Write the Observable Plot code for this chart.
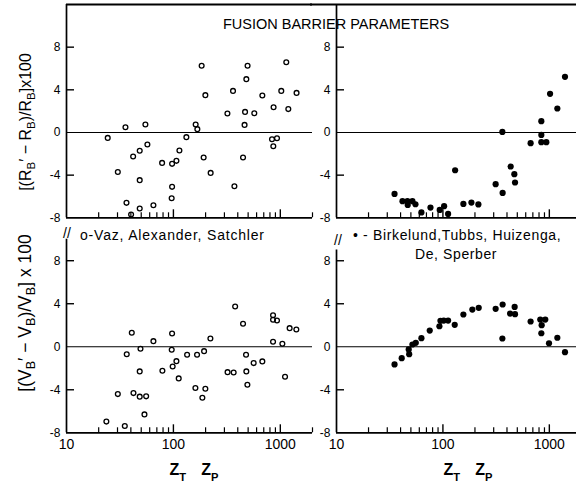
<!DOCTYPE html>
<html><head><meta charset="utf-8">
<script src="https://cdn.jsdelivr.net/npm/d3@7"></script>
<script src="https://cdn.jsdelivr.net/npm/@observablehq/plot@0.6"></script>
<style>
html,body{margin:0;padding:0;background:#fff;}
#fig{position:relative;width:576px;height:487px;overflow:hidden;background:#fff;font-family:"Liberation Sans",Arial,sans-serif;color:#000;}
#fig svg{position:absolute;left:0;top:0;}
.t{position:absolute;white-space:nowrap;line-height:1;}
.t sub{font-size:72%;vertical-align:baseline;position:relative;top:0.35em;}
.z sub{font-size:70%;top:0.5em;}
</style></head><body><div id="fig"></div>
<script>
// Top-left: (R'B - RB)/RB x100, open circles
const tlZ=[24.3,30.2,35.6,36.4,40.2,42.0,48.4,48.4,48.4,54.7,57.1,65.0,78.4,97.2,97.2,96.3,106.7,113.8,132.2,161.5,167.5,183.7,191.8,199,223,320,361,372,448,463,468,481,494,571,679,836,860,865,931,1021,1137,1188,1419];
const tlY=[-0.51,-3.70,0.49,-6.60,-7.69,-2.25,-1.72,-4.47,-7.13,0.75,-1.13,-6.82,-2.85,-2.94,-5.10,-6.16,-2.66,-1.69,-0.44,0.75,0.31,6.25,-2.35,3.50,-3.79,1.78,3.90,-5.04,-2.35,0.71,1.93,5.0,6.25,1.81,3.47,-0.63,-1.29,2.37,-0.54,3.90,6.59,2.19,3.71];
// Top-right: filled circles
const trZ=[35.1,41.7,46.4,46.7,51.7,55.2,62.8,76.4,93.3,102.6,111.9,130.2,155.7,185.3,215.4,313,362,364,433,469,476,667,841,841,841,937,1016,1189,1403];
const trY=[-5.76,-6.44,-6.44,-6.79,-6.44,-6.73,-7.50,-7.04,-7.26,-6.91,-7.64,-3.54,-6.70,-6.57,-6.75,-4.85,0.05,-5.67,-3.19,-3.91,-4.69,-1.00,1.06,-0.23,-0.91,-0.91,3.62,2.25,5.22];
// Bottom-left: (V'B - VB)/VB x100, open circles
const blZ=[23.6,30.2,35.1,36.6,40.8,42.3,48.4,48.4,49.2,55.6,53.6,65.0,78.9,97.2,96.4,98.4,106.7,112.1,134.3,160.6,166.4,186.6,193.6,199,221.8,321,366,378,448,478,481,492,563,679,855,855,931,855,1045,1107,1222,1412];
const blY=[-6.96,-4.40,-7.37,-0.69,1.30,-4.31,-2.29,-4.64,-0.19,-4.61,-6.29,0.52,-2.23,1.23,-0.28,-1.83,-1.34,-2.94,-0.74,-3.84,-0.74,-4.74,-0.41,-3.90,0.77,-2.36,-2.39,3.74,2.14,-0.74,-2.29,-3.53,-1.52,-1.36,2.93,2.51,2.44,0.46,0.28,-2.79,1.73,1.61];
// Bottom-right: filled circles
const brZ=[35.1,41.0,48.2,47.7,51.7,55.6,62.8,75.2,92.7,94.8,101.8,111.9,129.1,155.7,189,217,313,364,362,428,472,476,667,822,916,847,841,993,1189,1403];
const brY=[-1.64,-1.06,-0.69,-0.25,0.21,0.37,0.80,1.51,1.91,2.41,2.44,2.44,2.04,3.00,3.46,3.62,3.53,3.93,0.77,3.09,3.71,3.03,2.35,2.53,2.53,2.01,1.26,0.33,0.84,-0.50];

const yTicks=[-8,-4,0,4,8];
const xLabelTicks=[10,100,1000];
const xMajor=[100,1000];
const xMinor=[20,30,40,50,60,70,80,90,200,300,400,500,600,700,800,900,2000];

const W=576,H=487;
function panel(o){
  const data=o.z.map((z,i)=>({z, v:o.y[i]}));
  const pw=o.right-o.left, ph=o.bottom-o.top;
  const marks=[
    Plot.ruleY([0],{strokeWidth:1.1}),
    Plot.tickY(yTicks.filter(t=>t!==o.yDomain[0]&&t!==0),{y:d=>d, insetRight:pw-8, strokeWidth:1.4}),
    Plot.tickX(xMinor.filter(t=>t<=o.xDomain[1]),{x:d=>d, insetTop:ph-5, strokeWidth:1.2}),
    Plot.tickX(xMajor,{x:d=>d, insetTop:ph-8, strokeWidth:1.4}),
    Plot.ruleX([o.xDomain[0]],{strokeWidth:1.7}),
    Plot.ruleY([o.yDomain[0]],{strokeWidth:1.7}),
    Plot.axisY({ticks:yTicks, tickSize:0, tickPadding:6, fontSize:12, label:null, tickFormat:d=>String(d)}),
    Plot.dot(data, o.filled
      ? {x:"z", y:"v", r:3.1, fill:"black", stroke:"none"}
      : {x:"z", y:"v", r:2.4, fill:"none", stroke:"black", strokeWidth:1.3})
  ];
  if (o.topBorder) marks.push(Plot.ruleY([o.yDomain[1]],{strokeWidth:1.8, insetLeft:o.topInset||0}));
  if (o.xLabels) marks.push(Plot.axisX({ticks:xLabelTicks, tickSize:0, tickPadding:6, fontSize:14, label:null, tickFormat:d=>String(d)}));
  return Plot.plot({
    width:W, height:H,
    marginLeft:o.left, marginRight:W-o.right, marginTop:o.top, marginBottom:H-o.bottom,
    x:{type:"log", domain:o.xDomain, label:null, ...(o.xLabels?{}:{axis:null})},
    y:{domain:o.yDomain, label:null},
    style:{background:"none", fontFamily:"Liberation Sans, Arial, sans-serif", color:"black"},
    marks
  });
}

const fig=document.getElementById("fig");
fig.append(panel({z:tlZ,y:tlY,filled:false,xDomain:[10,2000],yDomain:[-8,12],left:66,right:312,top:4,bottom:217.3,topBorder:true}));
fig.append(panel({z:trZ,y:trY,filled:true,xDomain:[10,1800],yDomain:[-8,12],left:336,right:576,top:4,bottom:217.3,topBorder:true,topInset:-26}));
fig.append(panel({z:blZ,y:blY,filled:false,xDomain:[10,2000],yDomain:[-8,10],left:66,right:312,top:238.7,bottom:432.3,xLabels:true}));
fig.append(panel({z:brZ,y:brY,filled:true,xDomain:[10,1800],yDomain:[-8,9],left:336,right:576,top:249.5,bottom:432.3,xLabels:true}));

function txt(html,x,y,css,cls){
  const d=document.createElement("div");
  d.className="t"+(cls?" "+cls:""); d.innerHTML=html;
  d.style.left=x+"px"; d.style.top=y+"px";
  Object.assign(d.style,css||{});
  fig.append(d);
}
txt("FUSION BARRIER PARAMETERS",336,24,{fontSize:"14.5px",transform:"translate(-50%,-50%)",letterSpacing:"0px"});
txt("o-Vaz, Alexander, Satchler",80,235,{fontSize:"14px",transform:"translateY(-50%)",letterSpacing:"0.8px"});
txt("• - Birkelund,Tubbs, Huizenga,",353,235,{fontSize:"14px",transform:"translateY(-50%)",letterSpacing:"0.65px"});
txt("De, Sperber",415,254,{fontSize:"14px",transform:"translateY(-50%)",letterSpacing:"0.6px"});
const zHtml="Z<sub>T</sub><span style='margin-left:15px'>Z</span><sub>P</sub>";
txt(zHtml,194,462,{fontSize:"16px",fontWeight:"bold",transform:"translateX(-50%)"},"z");
txt(zHtml,468,462,{fontSize:"16px",fontWeight:"bold",transform:"translateX(-50%)"},"z");
txt("[(R<sub>B</sub>′ − R<sub>B</sub>)/R<sub>B</sub>]x100",26,122,{fontSize:"16px",transform:"translate(-50%,-50%) rotate(-90deg)"});
txt("[(V<sub>B</sub>′ − V<sub>B</sub>)/V<sub>B</sub>] x 100",26,313,{fontSize:"17.5px",transform:"translate(-50%,-50%) rotate(-90deg)"});
txt("//",67,233,{fontSize:"14px",transform:"translate(-50%,-50%)"});
txt("//",338,240,{fontSize:"14px",transform:"translate(-50%,-50%)"});
</script></body></html>
